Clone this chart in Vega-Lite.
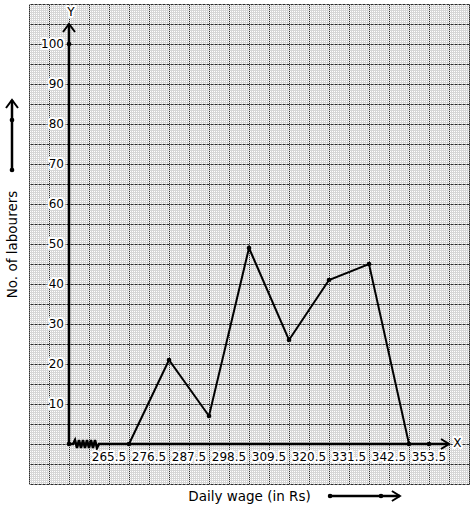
{
  "$schema": "https://vega.github.io/schema/vega-lite/v6.json",
  "width": 440,
  "height": 480,
  "autosize": {"type": "none"},
  "padding": {"left": 29, "top": 4, "right": 5, "bottom": 26},
  "background": "white",
  "config": {"font": "DejaVu Sans", "view": {"stroke": null}},
  "datasets": {
    "poly": [
      {"x": 271, "y": 0}, {"x": 282, "y": 21}, {"x": 293, "y": 7}, {"x": 304, "y": 49},
      {"x": 315, "y": 26}, {"x": 326, "y": 41}, {"x": 337, "y": 45}, {"x": 348, "y": 0}
    ],
    "xaxis": [
      {"x": 254.5, "y": 0}, {"x": 255.6, "y": 0}, {"x": 256.15, "y": 1}, {"x": 256.7, "y": -1},
      {"x": 257.25, "y": 1}, {"x": 257.8, "y": -1}, {"x": 258.35, "y": 1}, {"x": 258.9, "y": -1},
      {"x": 259.45, "y": 1}, {"x": 260.0, "y": -1}, {"x": 260.55, "y": 1}, {"x": 261.1, "y": -1},
      {"x": 261.65, "y": 1}, {"x": 262.2, "y": -1}, {"x": 262.75, "y": 0}, {"x": 359, "y": 0}
    ],
    "segs": [
      {"x": 254.5, "x2": 254.5, "y": 0, "y2": 105},
      {"x": 238.825, "x2": 238.825, "y": 68.5, "y2": 86},
      {"x": 326.3, "x2": 345.5, "y": -13, "y2": -13}
    ],
    "dots": [
      {"x": 254.5, "y": 0}, {"x": 254.5, "y": 100}, {"x": 353.5, "y": 0},
      {"x": 238.825, "y": 68.5}, {"x": 238.825, "y": 81},
      {"x": 326.3, "y": -13}, {"x": 340.3, "y": -13}
    ],
    "uparrows": [{"x": 254.5, "y": 105}, {"x": 238.825, "y": 86}],
    "rightarrows": [{"x": 359, "y": 0}, {"x": 345.5, "y": -13}],
    "ylabs": [
      {"x": 253.125, "y": 10, "t": "10"}, {"x": 253.125, "y": 20, "t": "20"},
      {"x": 253.125, "y": 30, "t": "30"}, {"x": 253.125, "y": 40, "t": "40"},
      {"x": 253.125, "y": 50, "t": "50"}, {"x": 253.125, "y": 60, "t": "60"},
      {"x": 253.125, "y": 70, "t": "70"}, {"x": 253.125, "y": 80, "t": "80"},
      {"x": 253.125, "y": 90, "t": "90"}, {"x": 253.125, "y": 100, "t": "100"}
    ],
    "xlabs": [
      {"x": 265.5, "y": -3.25, "t": "265.5"}, {"x": 276.5, "y": -3.25, "t": "276.5"},
      {"x": 287.5, "y": -3.25, "t": "287.5"}, {"x": 298.5, "y": -3.25, "t": "298.5"},
      {"x": 309.5, "y": -3.25, "t": "309.5"}, {"x": 320.5, "y": -3.25, "t": "320.5"},
      {"x": 331.5, "y": -3.25, "t": "331.5"}, {"x": 342.5, "y": -3.25, "t": "342.5"},
      {"x": 353.5, "y": -3.25, "t": "353.5"}
    ],
    "letters": [
      {"x": 255.05, "y": 108.1, "t": "Y"},
      {"x": 361.3, "y": 0.25, "t": "X"}
    ]
  },
  "resolve": {
    "scale": {"x": "independent", "y": "independent"},
    "axis": {"x": "independent", "y": "independent"}
  },
  "layer": [
    {
      "data": {"values": [{"v": 0}]},
      "mark": {"type": "point", "opacity": 0},
      "encoding": {
        "x": {"field": "v", "type": "quantitative",
          "scale": {"domain": [0, 220], "nice": false, "zero": false},
          "axis": {"title": null, "labels": false, "ticks": false, "domain": false, "grid": true,
            "tickCount": 220, "gridColor": "#d6d6d6", "gridOpacity": 1, "gridWidth": 1}}
      }
    },
    {
      "data": {"values": [{"v": 0}]},
      "mark": {"type": "point", "opacity": 0},
      "encoding": {
        "y": {"field": "v", "type": "quantitative",
          "scale": {"domain": [0, 240], "nice": false, "zero": false},
          "axis": {"title": null, "labels": false, "ticks": false, "domain": false, "grid": true,
            "tickCount": 240, "gridColor": "#d6d6d6", "gridOpacity": 1, "gridWidth": 1}}
      }
    },
    {
      "data": {"values": [{"v": 0}]},
      "mark": {"type": "point", "opacity": 0},
      "encoding": {
        "x": {"field": "v", "type": "quantitative",
          "scale": {"domain": [0, 22], "nice": false, "zero": false},
          "axis": {"title": null, "labels": false, "ticks": false, "domain": false, "grid": true,
            "tickCount": 22, "gridColor": "#2a2a2a", "gridOpacity": 1, "gridWidth": 1}}
      }
    },
    {
      "data": {"values": [{"v": 0}]},
      "mark": {"type": "point", "opacity": 0},
      "encoding": {
        "y": {"field": "v", "type": "quantitative",
          "scale": {"domain": [0, 24], "nice": false, "zero": false},
          "axis": {"title": null, "labels": false, "ticks": false, "domain": false, "grid": true,
            "tickCount": 24, "gridColor": "#2a2a2a", "gridOpacity": 1, "gridWidth": 1, "gridDash": [3, 1]}}
      }
    },
    {
      "encoding": {
        "x": {"field": "x", "type": "quantitative",
          "scale": {"domain": [243.5, 364.5], "nice": false, "zero": false}},
        "y": {"field": "y", "type": "quantitative",
          "scale": {"domain": [-10, 110], "nice": false, "zero": false}}
      },
      "layer": [
        {
          "data": {"name": "poly"},
          "mark": {"type": "line", "color": "black", "strokeWidth": 2},
          "encoding": {
            "x": {"field": "x", "type": "quantitative",
              "axis": {"title": "Daily wage (in Rs)", "orient": "bottom", "labels": false, "ticks": false,
                "domain": false, "grid": false, "titlePadding": 5, "titleFontSize": 13.5,
                "titleFontWeight": "normal", "titleColor": "black", "titleFont": "DejaVu Sans"}},
            "y": {"field": "y", "type": "quantitative",
              "axis": {"title": "No. of labourers", "orient": "left", "labels": false, "ticks": false,
                "domain": false, "grid": false, "titlePadding": 10, "titleFontSize": 13.5,
                "titleFontWeight": "normal", "titleColor": "black", "titleFont": "DejaVu Sans"}}
          }
        },
        {
          "data": {"name": "poly"},
          "mark": {"type": "point", "filled": true, "color": "black", "size": 22, "opacity": 1}
        },
        {
          "data": {"name": "xaxis"},
          "mark": {"type": "line", "color": "black", "strokeWidth": 2.5}
        },
        {
          "data": {"name": "segs"},
          "mark": {"type": "rule", "color": "black", "strokeWidth": 2.5},
          "encoding": {
            "x2": {"field": "x2"},
            "y2": {"field": "y2"}
          }
        },
        {
          "data": {"name": "dots"},
          "mark": {"type": "point", "filled": true, "color": "black", "size": 22, "opacity": 1}
        },
        {
          "data": {"name": "uparrows"},
          "mark": {"type": "point", "filled": false, "color": "black", "strokeWidth": 2, "opacity": 1,
            "shape": "M-1,1.33L0,0L1,1.33", "size": 144}
        },
        {
          "data": {"name": "rightarrows"},
          "mark": {"type": "point", "filled": false, "color": "black", "strokeWidth": 2, "opacity": 1,
            "shape": "M-1.6,-1L0,0L-1.6,1", "size": 100}
        },
        {
          "data": {"name": "ylabs"},
          "mark": {"type": "text", "fill": "white", "stroke": "white", "strokeWidth": 4, "strokeJoin": "round",
            "align": "right", "baseline": "middle", "fontSize": 12},
          "encoding": {"text": {"field": "t"}}
        },
        {
          "data": {"name": "ylabs"},
          "mark": {"type": "text", "color": "black", "align": "right", "baseline": "middle", "fontSize": 12},
          "encoding": {"text": {"field": "t"}}
        },
        {
          "data": {"name": "xlabs"},
          "mark": {"type": "text", "fill": "white", "stroke": "white", "strokeWidth": 4, "strokeJoin": "round",
            "align": "center", "baseline": "middle", "fontSize": 12},
          "encoding": {"text": {"field": "t"}}
        },
        {
          "data": {"name": "xlabs"},
          "mark": {"type": "text", "color": "black", "align": "center", "baseline": "middle", "fontSize": 12},
          "encoding": {"text": {"field": "t"}}
        },
        {
          "data": {"name": "letters"},
          "mark": {"type": "text", "fill": "white", "stroke": "white", "strokeWidth": 4, "strokeJoin": "round",
            "align": "center", "baseline": "middle", "fontSize": 12},
          "encoding": {"text": {"field": "t"}}
        },
        {
          "data": {"name": "letters"},
          "mark": {"type": "text", "color": "black", "align": "center", "baseline": "middle", "fontSize": 12},
          "encoding": {"text": {"field": "t"}}
        }
      ]
    }
  ]
}
